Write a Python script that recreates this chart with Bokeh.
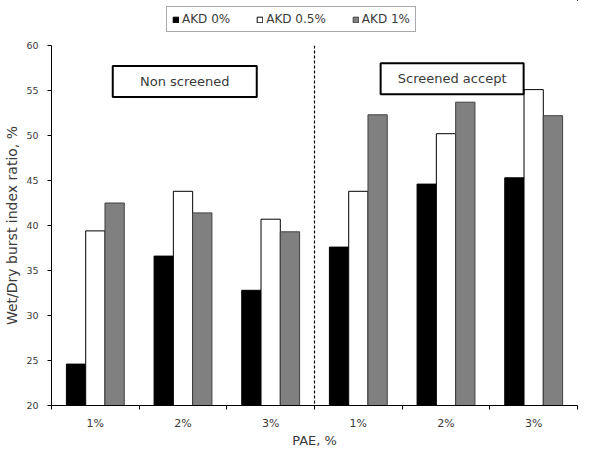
from bokeh.plotting import figure
from bokeh.layouts import column
from bokeh.models import (ColumnDataSource, FixedTicker, Legend, LegendItem, Span,
                          Range1d)
from bokeh.core.properties import value
from bokeh.embed import file_html
from bokeh.resources import INLINE

# ---- data ----
groups = ["Non screened", "Screened accept"]
pae_labels = ["1%", "2%", "3%", "1%", "2%", "3%"]
series_names = ["AKD 0%", "AKD 0.5%", "AKD 1%"]
akd_0 = [24.6, 36.6, 32.8, 37.6, 44.6, 45.3]
akd_05 = [39.4, 43.8, 40.7, 43.8, 50.2, 55.1]
akd_1 = [42.5, 41.4, 39.3, 52.3, 53.7, 52.2]
y_ticks = [20, 25, 30, 35, 40, 45, 50, 55, 60]

FONT = "DejaVu Sans"
TXT = "#3a3a3a"
n = len(pae_labels)
centers = [i + 0.5 for i in range(n)]
fills = ["#000000", "#ffffff", "#808080"]
lines = ["#000000", "#000000", "#404040"]
series = [akd_0, akd_05, akd_1]

# ---- legend strip on top (its bars lie outside its visible range) ----
top = figure(width=592, height=39, output_backend="svg", toolbar_location=None,
             x_range=Range1d(-2, -1), y_range=Range1d(-2, -1),
             min_border_left=0, min_border_right=0, min_border_top=0,
             min_border_bottom=0)
top.axis.visible = False
top.grid.visible = False
top.outline_line_color = None
leg_renderers = []
for vals, fc, lc in zip(series, fills, lines):
    src = ColumnDataSource(dict(x=centers, top=vals))
    r = top.vbar(x="x", top="top", bottom=20, width=0.2, source=src,
                 fill_color=fc, line_color=lc, line_width=1)
    leg_renderers.append(r)
legend = Legend(items=[LegendItem(label=s, renderers=[r])
                       for s, r in zip(series_names, leg_renderers)],
                orientation="horizontal", location=(115, 7))
legend.label_text_font = FONT
legend.label_text_font_size = "12px"
legend.label_text_color = TXT
legend.glyph_width = 7
legend.glyph_height = 7
legend.label_standoff = 3
legend.spacing = 26
legend.padding = 5
legend.margin = 0
legend.border_line_color = "#555555"
legend.border_line_width = 1
legend.label_height = 12
top.add_layout(legend)

# ---- main chart ----
p = figure(width=592, height=411, output_backend="svg", toolbar_location=None,
           x_range=Range1d(0, n), y_range=Range1d(20, 60),
           min_border_left=51, min_border_right=15, min_border_top=6,
           min_border_bottom=45)
p.outline_line_color = None
p.xgrid.visible = False
p.ygrid.visible = False
p.background_fill_color = "white"

bw = 0.22
offsets = [-bw, 0.0, bw]
for vals, off, fc, lc in zip(series, offsets, fills, lines):
    src = ColumnDataSource(dict(x=[c + off for c in centers], top=vals))
    p.vbar(x="x", top="top", bottom=20, width=bw, source=src,
           fill_color=fc, line_color=lc, line_width=1)

# x axis: labels at centers, ticks at boundaries
p.xaxis.ticker = FixedTicker(ticks=centers, minor_ticks=list(range(n + 1)))
p.xaxis.major_label_overrides = {c: lab for c, lab in zip(centers, pae_labels)}
p.xaxis.major_tick_line_color = None
p.xaxis.major_tick_in = 0
p.xaxis.major_tick_out = 4
p.xaxis.minor_tick_in = 0
p.xaxis.minor_tick_out = 4
p.xaxis.minor_tick_line_color = "black"
p.xaxis.major_label_standoff = 7
p.xaxis.major_label_text_font = FONT
p.xaxis.major_label_text_font_size = "11px"
p.xaxis.major_label_text_color = TXT
p.xaxis.axis_label = "PAE, %"
p.xaxis.axis_label_text_font = FONT
p.xaxis.axis_label_text_font_size = "13px"
p.xaxis.axis_label_text_font_style = "normal"
p.xaxis.axis_label_text_color = TXT
p.xaxis.axis_label_standoff = 0
p.xaxis.axis_line_color = "black"

p.yaxis.ticker = FixedTicker(ticks=y_ticks)
p.yaxis.minor_tick_line_color = None
p.yaxis.major_tick_in = 0
p.yaxis.major_tick_out = 4
p.yaxis.major_label_text_font = FONT
p.yaxis.major_label_text_font_size = "9.5px"
p.yaxis.major_label_text_color = TXT
p.yaxis.major_label_standoff = 9
p.yaxis.axis_label = "Wet/Dry burst index ratio, %"
p.yaxis.axis_label_text_font = FONT
p.yaxis.axis_label_text_font_size = "14px"
p.yaxis.axis_label_text_font_style = "normal"
p.yaxis.axis_label_text_color = TXT
p.yaxis.axis_label_standoff = 3
p.yaxis.axis_line_color = "black"

# divider between groups
p.add_layout(Span(location=3, dimension="height", line_color="black",
                  line_dash="3 2", line_width=1.2))

# group boxes
box_src = ColumnDataSource(dict(x=[1.52, 4.57], y=[56.0, 56.3], text=groups,
                                w=[144, 143]))
p.rect(x="x", y="y", width="w", height=31, width_units="screen",
       height_units="screen", source=box_src, fill_color="white",
       line_color="black", line_width=2)
p.text(x="x", y="y", text="text", source=box_src, text_align="center",
       text_baseline="middle", text_font=value(FONT), text_font_size="13px",
       text_color=TXT)

layout = column(top, p, spacing=0)
open("out.html", "w").write(file_html(layout, INLINE))
